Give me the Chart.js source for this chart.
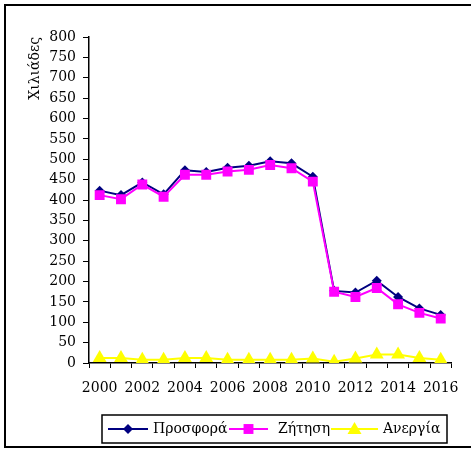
<!DOCTYPE html>
<html>
<head>
<meta charset="utf-8">
<script src="https://cdn.jsdelivr.net/npm/chart.js@4"></script>
<style>
  html, body { margin: 0; padding: 0; background: #fff; }
  #wrap { position: relative; width: 471px; height: 451px; }
</style>
</head>
<body>
<div id="wrap"><canvas id="c" width="471" height="451"></canvas></div>
<script>
const years = ['2000','2001','2002','2003','2004','2005','2006','2007','2008','2009','2010','2011','2012','2013','2014','2015','2016'];
const supply = [423, 412, 443, 414, 473, 469, 479, 484, 495, 490, 457, 177, 173, 202, 162, 134, 118];
const demand = [412, 402, 438, 408, 462, 462, 470, 474, 486, 478, 445, 175, 162, 184, 144, 123, 109];
const unemployment = [12, 12, 8, 8, 12, 12, 8, 8, 8, 8, 11, 3, 11, 21, 21, 12, 8];
const seriesNames = ['Προσφορά', 'Ζήτηση', 'Ανεργία'];
const yTitle = 'Χιλιάδες';

const FONT = 'DejaVu Serif';

const frame = {
  id: 'frame',
  beforeDraw(chart) {
    const ctx = chart.ctx;
    ctx.save();
    ctx.fillStyle = '#fff';
    ctx.fillRect(0, 0, chart.width, chart.height);
    ctx.strokeStyle = '#000';
    ctx.lineWidth = 2;
    ctx.strokeRect(5, 5, 480, 442);
    ctx.restore();
  }
};

const customLegend = {
  id: 'customLegend',
  afterDraw(chart) {
    const ctx = chart.ctx;
    ctx.save();
    ctx.strokeStyle = '#000';
    ctx.lineWidth = 1.5;
    ctx.strokeRect(102, 415, 345, 28);
    const items = [
      { sx: 108, ex: 148, tx: 153 },
      { sx: 229, ex: 268, tx: 278 },
      { sx: 331, ex: 378, tx: 383 }
    ];
    const cy = 429;
    chart.data.datasets.forEach((ds, i) => {
      const it = items[i];
      ctx.strokeStyle = ds.borderColor;
      ctx.lineWidth = 2;
      ctx.beginPath();
      ctx.moveTo(it.sx, cy);
      ctx.lineTo(it.ex, cy);
      ctx.stroke();
      const mx = (it.sx + it.ex) / 2;
      ctx.fillStyle = ds.pointBackgroundColor;
      ctx.beginPath();
      const r = ds.pointRadius;
      if (ds.pointStyle === 'rectRot') {
        ctx.moveTo(mx, cy - r); ctx.lineTo(mx + r, cy); ctx.lineTo(mx, cy + r); ctx.lineTo(mx - r, cy); ctx.closePath();
      } else if (ds.pointStyle === 'rect') {
        const s = r * Math.SQRT1_2;
        ctx.rect(mx - s, cy - s, 2 * s, 2 * s);
      } else {
        ctx.moveTo(mx, cy - 7); ctx.lineTo(mx + 7, cy + 5); ctx.lineTo(mx - 7, cy + 5); ctx.closePath();
      }
      ctx.fill();
      ctx.fillStyle = '#000';
      ctx.font = '14px "' + FONT + '"';
      ctx.textBaseline = 'middle';
      ctx.textAlign = 'left';
      ctx.fillText(ds.label, it.tx, cy);
    });
    ctx.restore();
  }
};

new Chart(document.getElementById('c'), {
  type: 'line',
  data: {
    labels: years,
    datasets: [
      { label: seriesNames[0], data: supply, borderColor: '#000080', backgroundColor: '#000080',
        pointBackgroundColor: '#000080', pointBorderColor: '#000080', pointStyle: 'rectRot',
        pointRadius: 5, borderWidth: 2, pointBorderWidth: 0, order: 3, tension: 0 },
      { label: seriesNames[1], data: demand, borderColor: '#FF00FF', backgroundColor: '#FF00FF',
        pointBackgroundColor: '#FF00FF', pointBorderColor: '#FF00FF', pointStyle: 'rect',
        pointRadius: 7, borderWidth: 2, pointBorderWidth: 0, order: 2, tension: 0 },
      { label: seriesNames[2], data: unemployment, borderColor: '#FFFF00', backgroundColor: '#FFFF00',
        pointBackgroundColor: '#FFFF00', pointBorderColor: '#FFFF00', pointStyle: 'triangle',
        pointRadius: 8, borderWidth: 2, pointBorderWidth: 0, order: 1, tension: 0 }
    ]
  },
  options: {
    responsive: false,
    animation: false,
    layout: { padding: { left: 5, right: 16, top: 37, bottom: 50 } },
    plugins: { legend: { display: false }, tooltip: { enabled: false } },
    scales: {
      x: {
        type: 'category',
        offset: true,
        grid: { display: true, drawOnChartArea: false, drawTicks: true, tickLength: 5, color: '#000', lineWidth: 1, offset: true },
        border: { display: true, color: '#000', width: 1.5 },
        ticks: {
          autoSkip: false, maxRotation: 0, minRotation: 0, padding: 12, color: '#000',
          font: { family: FONT, size: 14 },
          callback: function (v, i) { return i % 2 === 0 ? this.getLabelForValue(v) : ''; }
        },
        afterFit(scale) { scale.height = 38; }
      },
      y: {
        min: 0, max: 800,
        grid: { display: true, drawOnChartArea: false, drawTicks: true, tickLength: 6, color: '#000', lineWidth: 1 },
        border: { display: true, color: '#000', width: 1.5 },
        ticks: { stepSize: 50, padding: 7, color: '#000', font: { family: FONT, size: 14 } },
        title: { display: true, text: yTitle, align: 'end', color: '#000', font: { family: FONT, size: 14 }, padding: { top: 22, bottom: 0 } },
        afterFit(scale) { scale.width = 84; }
      }
    }
  },
  plugins: [frame, customLegend]
});
</script>
</body>
</html>
